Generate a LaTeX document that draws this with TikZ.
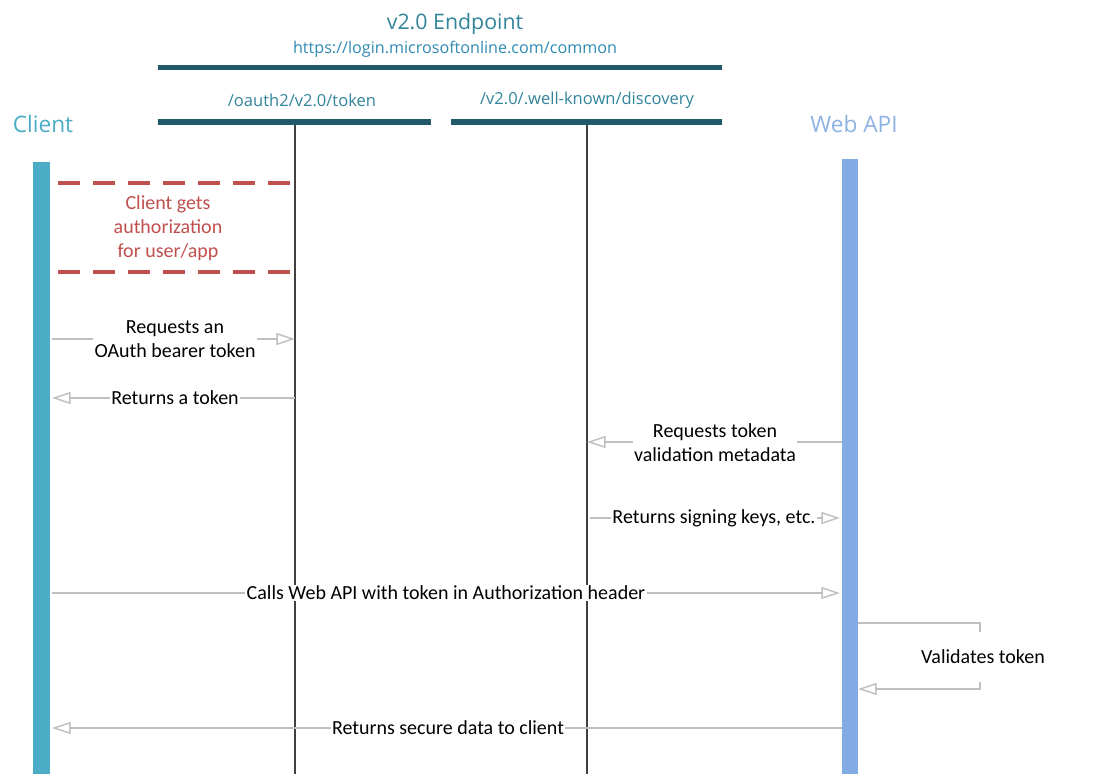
\documentclass[tikz,border=0pt]{standalone}
\usepackage{fontspec}
\setmainfont{Carlito}
\newfontfamily\headfont{Open Sans}
\usetikzlibrary{arrows.meta}
\definecolor{barteal}{HTML}{215968}
\definecolor{headteal}{HTML}{31849B}
\definecolor{urlblue}{HTML}{2F8AB3}
\definecolor{clientblue}{HTML}{4BACC6}
\definecolor{apiblue}{HTML}{82AAE3}
\definecolor{apitext}{HTML}{8DB3E2}
\definecolor{authred}{HTML}{C0504D}
\definecolor{arrowgray}{HTML}{BFBFBF}
\definecolor{lifegray}{HTML}{404040}
\tikzset{
  msg/.style={draw=arrowgray, line width=1.1pt, -{Triangle[open,length=14pt,width=9pt]}},
  lbl/.style={fill=white, inner xsep=1pt, inner ysep=0.5pt, align=center, font=\fontsize{15}{18}\selectfont},
  life/.style={draw=lifegray, line width=0.9pt},
  authline/.style={draw=authred, line width=3pt, dash pattern=on 16.5pt off 9.8pt},
}
\begin{document}
\begin{tikzpicture}[x=0.75pt,y=-0.75pt]
\useasboundingbox (0,0) rectangle (1093,774);
% headers
\node[headteal, font=\headfont\fontsize{16}{19}\selectfont] (endpoint) at (455,24) {v2.0 Endpoint};
\node[urlblue, font=\headfont\fontsize{12.1}{14}\selectfont] (url) at (455,49) {https://login.microsoftonline.com/common};
\fill[barteal] (158,65) rectangle (722,70); %endpoint bar
\node[headteal, font=\headfont\fontsize{12.4}{15}\selectfont] (tokhead) at (302,100) {/oauth2/v2.0/token};
\node[headteal, font=\headfont\fontsize{12.4}{15}\selectfont] (dischead) at (587,100) {/v2.0/.well-known/discovery};
\fill[barteal] (158,119) rectangle (431,125.5); %token bar
\fill[barteal] (451,119) rectangle (722,125.5); %discovery bar
\node[clientblue, font=\headfont\fontsize{17}{20}\selectfont] (client) at (43,124) {Client};
\node[apitext, font=\headfont\fontsize{17}{20}\selectfont] (webapi) at (854,124) {Web API};

% lifelines
\coordinate (tok) at (295,125);
\coordinate (disc) at (587,125);
\draw[life] (tok) -- (295,774);
\draw[life] (disc) -- (587,774);
\fill[clientblue] (33,162) rectangle (50,774); %client bar
\fill[apiblue] (842,159) rectangle (858,774); %web api bar

% authorization
\draw[authline] (58,183) -- (291,183);
\draw[authline] (58,272) -- (291,272);
\node[authred, align=center, font=\fontsize{15}{18}\selectfont] (auth) at (168,228) {Client gets\\authorization\\for user/app};

% messages
\coordinate (c1) at (52,339); \coordinate (t1) at (295,339);
\draw[msg] (c1) -- (t1);
\node[lbl] (m1) at (175,339) {Requests an\\OAuth bearer token};

\coordinate (t2) at (295,398); \coordinate (c2) at (52,398);
\draw[msg] (t2) -- (c2);
\node[lbl] (m2) at (175,398) {Returns a token};

\coordinate (a3) at (842,442); \coordinate (d3) at (587,442);
\draw[msg] (a3) -- (d3);
\node[lbl] (m3) at (715,443) {Requests token\\validation metadata};

\coordinate (d4) at (590,518); \coordinate (a4) at (840,518);
\draw[msg] (d4) -- (a4);
\node[lbl] (m4) at (714,518) {Returns signing keys, etc.};

\coordinate (c5) at (52,593); \coordinate (a5) at (840,593);
\draw[msg] (c5) -- (a5);
\node[lbl] (m5) at (446,593) {Calls Web API with token in Authorization header};

\coordinate (a6) at (858,623); \coordinate (b6) at (858,689);
\draw[msg] (a6) -- (980,623) -- (980,689) -- (b6);
\node[lbl, minimum height=38pt] (m6) at (983,657) {Validates token};

\coordinate (a7) at (842,728); \coordinate (c7) at (52,728);
\draw[msg] (a7) -- (c7);
\node[lbl] (m7) at (448,728) {Returns secure data to client};
\end{tikzpicture}
\end{document}
